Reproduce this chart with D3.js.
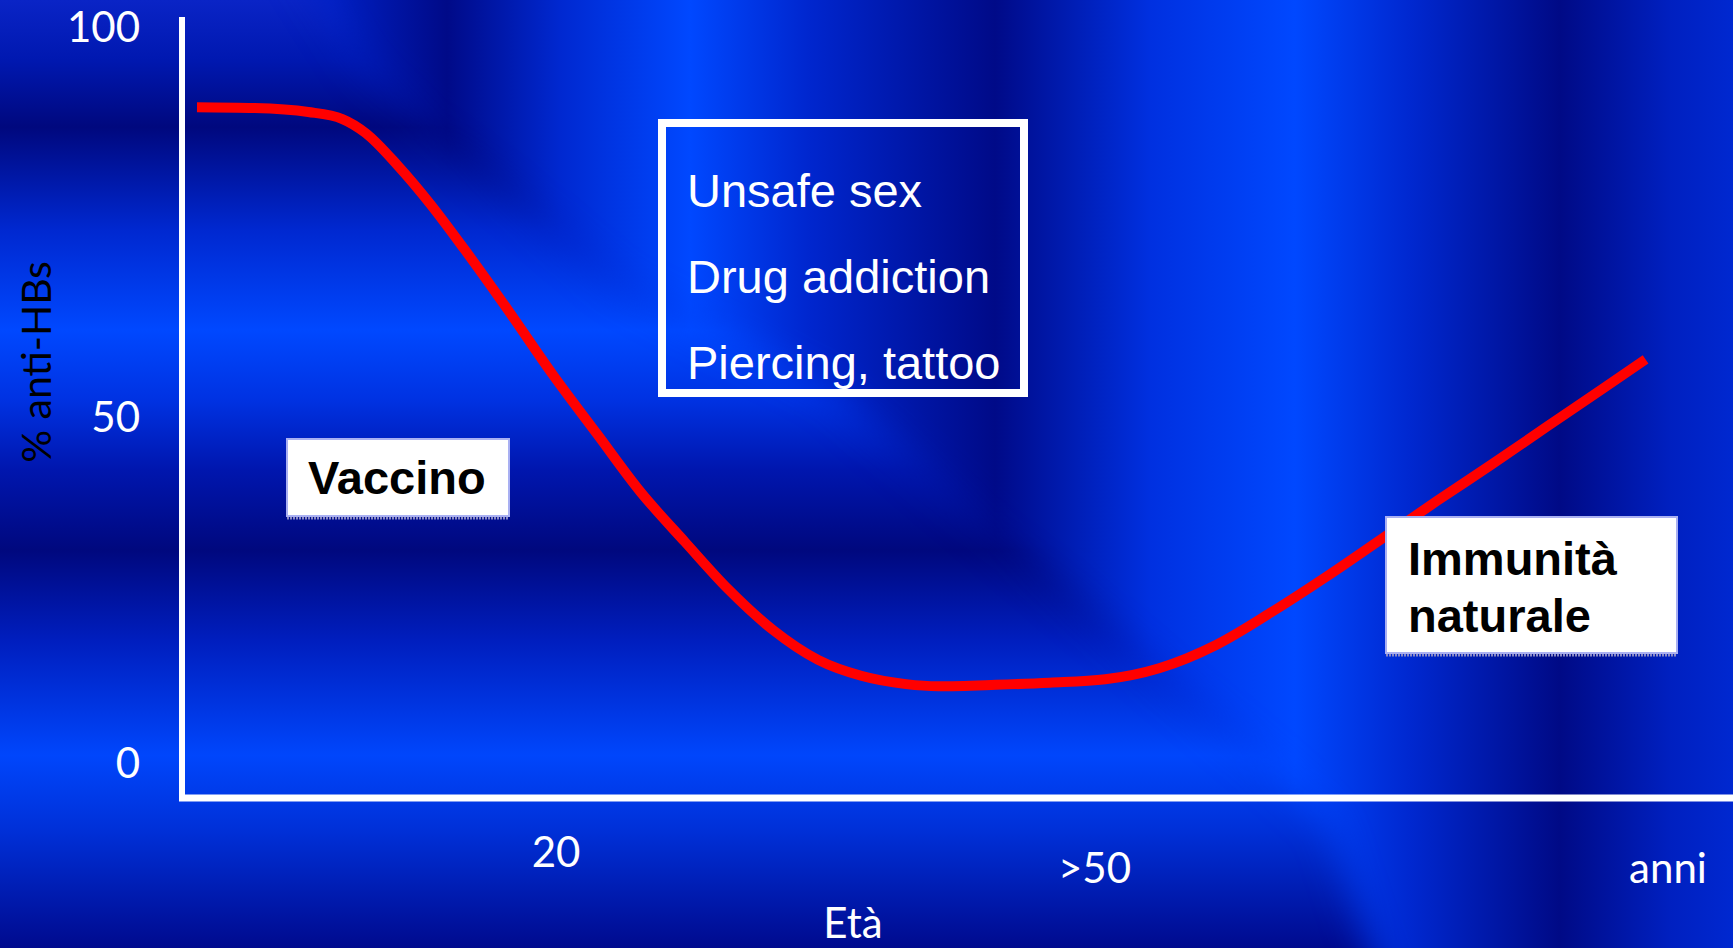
<!DOCTYPE html>
<html>
<head>
<meta charset="utf-8">
<script src="https://cdn.jsdelivr.net/npm/d3@7"></script>
<style>
html, body { margin: 0; padding: 0; overflow: hidden; background: #0020c8; }
svg { display: block; }
</style>
</head>
<body>
<svg id="chart" width="1733" height="948"></svg>
<script>
// ---------- data ----------
const ages    = [0, 3.2, 6.2, 8.1, 9.4, 11.2, 13.0, 14.9, 17.3, 19.8, 22.3, 24.7, 27.2, 29.6, 32.1, 34.6, 37.0, 39.5, 41.3, 44.5, 47.5, 50.6, 53.6, 56.8, 59.8, 62.9, 66.0, 69.1, 72.1, 75.2, 78.3, 80.7];
const antiHBs = [89.7, 89.6, 89.1, 88.2, 86.4, 82.2, 77.3, 71.5, 63.8, 55.5, 47.5, 39.2, 31.9, 25.1, 19.2, 14.9, 12.6, 11.4, 11.1, 11.3, 11.6, 12.1, 13.7, 17.1, 21.7, 26.9, 32.4, 37.9, 43.1, 48.6, 53.6, 57.4];
const yTicks = [0, 50, 100];
const xTicks = [20, 50];
const xTickLabels = ["20", ">50"];
const unitLabel = "anni";
const xTitle = "Età";
const yTitle = "% anti-HBs";
const riskFactors = ["Unsafe sex", "Drug addiction", "Piercing, tattoo"];
const vaccineLabel = ["Vaccino"];
const naturalLabel = ["Immunità", "naturale"];

// ---------- layout ----------
const W = 1733, H = 948;
const svg = d3.select("#chart");
const defs = svg.append("defs");

// background: horizontal bands (vertical gradient)
const vStops = [[0, "#0a24c6"], [60, "#0018b0"], [127, "#00087e"], [230, "#0028d0"], [330, "#0048ff"], [400, "#0032e2"], [470, "#0016ae"], [550, "#00087e"], [640, "#001ebe"], [755, "#0046fc"], [830, "#0030d8"], [948, "#000a8e"]];
const vg = defs.append("linearGradient").attr("id", "vbands").attr("gradientUnits", "userSpaceOnUse")
  .attr("x1", 0).attr("y1", 0).attr("x2", 0).attr("y2", H);
vg.selectAll("stop").data(vStops).join("stop")
  .attr("offset", d => d[0] / H).attr("stop-color", d => d[1]);

// background: vertical bands (horizontal gradient)
const hStops = [[330, "#0020c4"], [447, "#000a88"], [560, "#0028d0"], [690, "#0048ff"], [810, "#0026ce"], [995, "#000a88"], [1150, "#0030e0"], [1295, "#0048ff"], [1410, "#0028d0"], [1560, "#000a86"], [1670, "#0020c0"], [1733, "#0028d0"]];
const hg = defs.append("linearGradient").attr("id", "hbands").attr("gradientUnits", "userSpaceOnUse")
  .attr("x1", 0).attr("y1", 0).attr("x2", W).attr("y2", 0);
hg.selectAll("stop").data(hStops).join("stop")
  .attr("offset", d => d[0] / W).attr("stop-color", d => d[1]);

const blur = defs.append("filter").attr("id", "soft").attr("x", "-20%").attr("y", "-20%").attr("width", "140%").attr("height", "140%");
blur.append("feGaussianBlur").attr("stdDeviation", 18);
const mask = defs.append("mask").attr("id", "rightMask").attr("maskUnits", "userSpaceOnUse")
  .attr("x", 0).attr("y", 0).attr("width", W).attr("height", H);
mask.append("polygon")
  .attr("points", "260,-100 365,67 619,283 829,390 1271,767 1330,820 1420,1100 1900,1100 1900,-100")
  .attr("fill", "white").attr("filter", "url(#soft)");

svg.append("rect").attr("width", W).attr("height", H).attr("fill", "url(#vbands)");
svg.append("rect").attr("width", W).attr("height", H).attr("fill", "url(#hbands)").attr("mask", "url(#rightMask)");

// scales
const x = d3.scaleLinear().domain([0, 80]).range([197, 1633]);
const y = d3.scaleLinear().domain([0, 50, 100]).range([763, 417, 27]);

const axisX = 182, axisTop = 17, axisY = 798;
const calibri = "Lato, 'Open Sans', sans-serif";
const arial = "'Liberation Sans', Arial, sans-serif";

// y tick labels
svg.append("g").selectAll("text").data(yTicks).join("text")
  .attr("x", 140).attr("y", d => y(d)).attr("dy", "0.36em")
  .attr("text-anchor", "end")
  .attr("font-family", calibri).attr("font-size", 42)
  .attr("fill", "#ffffff").text(d => d);

// y title
svg.append("text")
  .attr("transform", "translate(51,362) rotate(-90)")
  .attr("text-anchor", "middle")
  .attr("font-family", calibri).attr("font-size", 41)
  .attr("fill", "#000000").text(yTitle);

// x tick labels
const xLabelBase = [867, 883];
svg.append("g").selectAll("text").data(xTicks).join("text")
  .attr("x", d => x(d)).attr("y", (d, i) => xLabelBase[i])
  .attr("text-anchor", "middle")
  .attr("font-family", calibri).attr("font-size", 42)
  .attr("fill", "#ffffff").text((d, i) => xTickLabels[i]);

svg.append("text").attr("x", 1668).attr("y", 883).attr("text-anchor", "middle")
  .attr("font-family", calibri).attr("font-size", 42)
  .attr("fill", "#ffffff").text(unitLabel);

svg.append("text").attr("x", 853).attr("y", 938).attr("text-anchor", "middle")
  .attr("font-family", calibri).attr("font-size", 42)
  .attr("fill", "#ffffff").text(xTitle);

// axes lines
svg.append("line").attr("x1", axisX).attr("x2", axisX).attr("y1", axisTop).attr("y2", axisY + 3)
  .attr("stroke", "#ffffff").attr("stroke-width", 6);
svg.append("line").attr("x1", axisX - 3).attr("x2", W).attr("y1", axisY).attr("y2", axisY)
  .attr("stroke", "#ffffff").attr("stroke-width", 7);

// risk factors box
svg.append("rect").attr("x", 662).attr("y", 123).attr("width", 362).attr("height", 270)
  .attr("fill", "none").attr("stroke", "#ffffff").attr("stroke-width", 8);
svg.append("g").selectAll("text").data(riskFactors).join("text")
  .attr("x", 687).attr("y", (d, i) => 207 + i * 86)
  .attr("font-family", arial).attr("font-size", 47)
  .attr("fill", "#ffffff").text(d => d);

// curve
const line = d3.line().x((d, i) => x(ages[i])).y(d => y(d)).curve(d3.curveMonotoneX);
svg.append("path").datum(antiHBs).attr("d", line)
  .attr("fill", "none").attr("stroke", "#ff0000").attr("stroke-width", 10)
  .attr("stroke-linecap", "butt").attr("stroke-linejoin", "round");

// label boxes
function labelBox(bx, by, bw, bh, lines, tx, ty, lh) {
  svg.append("line").attr("x1", bx).attr("x2", bx + bw).attr("y1", by + bh + 2).attr("y2", by + bh + 2)
    .attr("stroke", "#8c8cc4").attr("stroke-width", 3).attr("stroke-dasharray", "2,1");
  svg.append("rect").attr("x", bx).attr("y", by).attr("width", bw).attr("height", bh)
    .attr("fill", "#ffffff").attr("stroke", "#a9b0f2").attr("stroke-width", 2);
  svg.append("g").selectAll("text").data(lines).join("text")
    .attr("x", tx).attr("y", (d, i) => ty + i * lh)
    .attr("font-family", arial).attr("font-weight", "bold")
    .attr("font-size", 47).attr("fill", "#000000").text(d => d);
}
labelBox(287, 439, 222, 77, vaccineLabel, 308, 494, 0);
labelBox(1386, 517, 291, 136, naturalLabel, 1408, 575, 57);
</script>
</body>
</html>
